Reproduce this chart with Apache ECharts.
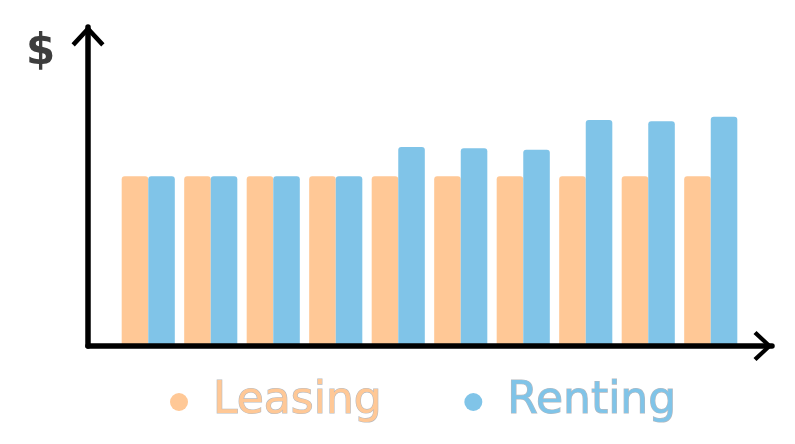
<!DOCTYPE html>
<html>
<head>
<meta charset="utf-8">
<script src="https://cdn.jsdelivr.net/npm/echarts@6/dist/echarts.min.js"></script>
<style>
  html, body { margin: 0; padding: 0; background: #fff; }
  #chart { width: 795px; height: 444px; }
</style>
</head>
<body>
<div id="chart"></div>
<script>
const categories = ['1', '2', '3', '4', '5', '6', '7', '8', '9', '10'];
const leasing = [300, 300, 300, 300, 300, 300, 300, 300, 300, 300];
const renting = [300, 300, 300, 300, 352, 350, 347, 400, 398, 406];
const seriesNames = ['Leasing', 'Renting'];
const yLabel = '$';

const ORANGE = '#FFC896';
const BLUE = '#80C4E8';
const chevron = 'path://M0,16 L15,0 L30,16 L27,19 L15,6 L3,19 Z';

const chart = echarts.init(document.getElementById('chart'), null, { renderer: 'canvas' });
chart.setOption({
  animation: false,
  backgroundColor: '#ffffff',
  grid: [
    { left: 117, right: 53, top: 30, bottom: 99 },
    { left: 88, right: 23, top: 27, bottom: 98 }
  ],
  xAxis: [
    { type: 'category', gridIndex: 0, data: categories, show: false },
    {
      type: 'value', gridIndex: 1, min: 0, max: 1, z: 5,
      axisLine: { show: true, symbol: ['none', chevron], symbolSize: [30, 19], symbolOffset: [0, -9],
        lineStyle: { color: '#000', width: 5.5, cap: 'round' } },
      axisTick: { show: false }, axisLabel: { show: false }, splitLine: { show: false }
    }
  ],
  yAxis: [
    { type: 'value', gridIndex: 0, min: 0, max: 560, show: false },
    {
      type: 'value', gridIndex: 1, min: 0, max: 1, z: 5,
      axisLine: { show: true, symbol: ['none', chevron], symbolSize: [33, 21], symbolOffset: [0, -9],
        lineStyle: { color: '#000', width: 5.5, cap: 'round' } },
      axisTick: { show: false }, axisLabel: { show: false }, splitLine: { show: false }
    }
  ],
  legend: {
    data: seriesNames,
    left: 170,
    top: 377,
    padding: 0,
    icon: 'circle',
    itemWidth: 58,
    itemHeight: 18,
    itemGap: 82,
    textStyle: { fontFamily: 'DejaVu Sans', fontSize: 44, lineHeight: 50, color: 'inherit',
      textBorderColor: 'inherit', textBorderWidth: 1.2 },
    selectedMode: false
  },
  graphic: [
    {
      type: 'text', left: 26, top: 32,
      style: { text: yLabel, font: 'bold 42px "DejaVu Sans"', fill: '#3d3d3d' }
    }
  ],
  series: [
    {
      name: seriesNames[0], type: 'bar', xAxisIndex: 0, yAxisIndex: 0,
      data: leasing, barGap: '0%', barCategoryGap: '15%',
      itemStyle: { color: ORANGE, borderRadius: [3, 3, 0, 0] },
      label: { show: false }
    },
    {
      name: seriesNames[1], type: 'bar', xAxisIndex: 0, yAxisIndex: 0,
      data: renting, barGap: '0%', barCategoryGap: '15%',
      itemStyle: { color: BLUE, borderRadius: [3, 3, 0, 0] },
      label: { show: false }
    }
  ]
});
</script>
</body>
</html>
